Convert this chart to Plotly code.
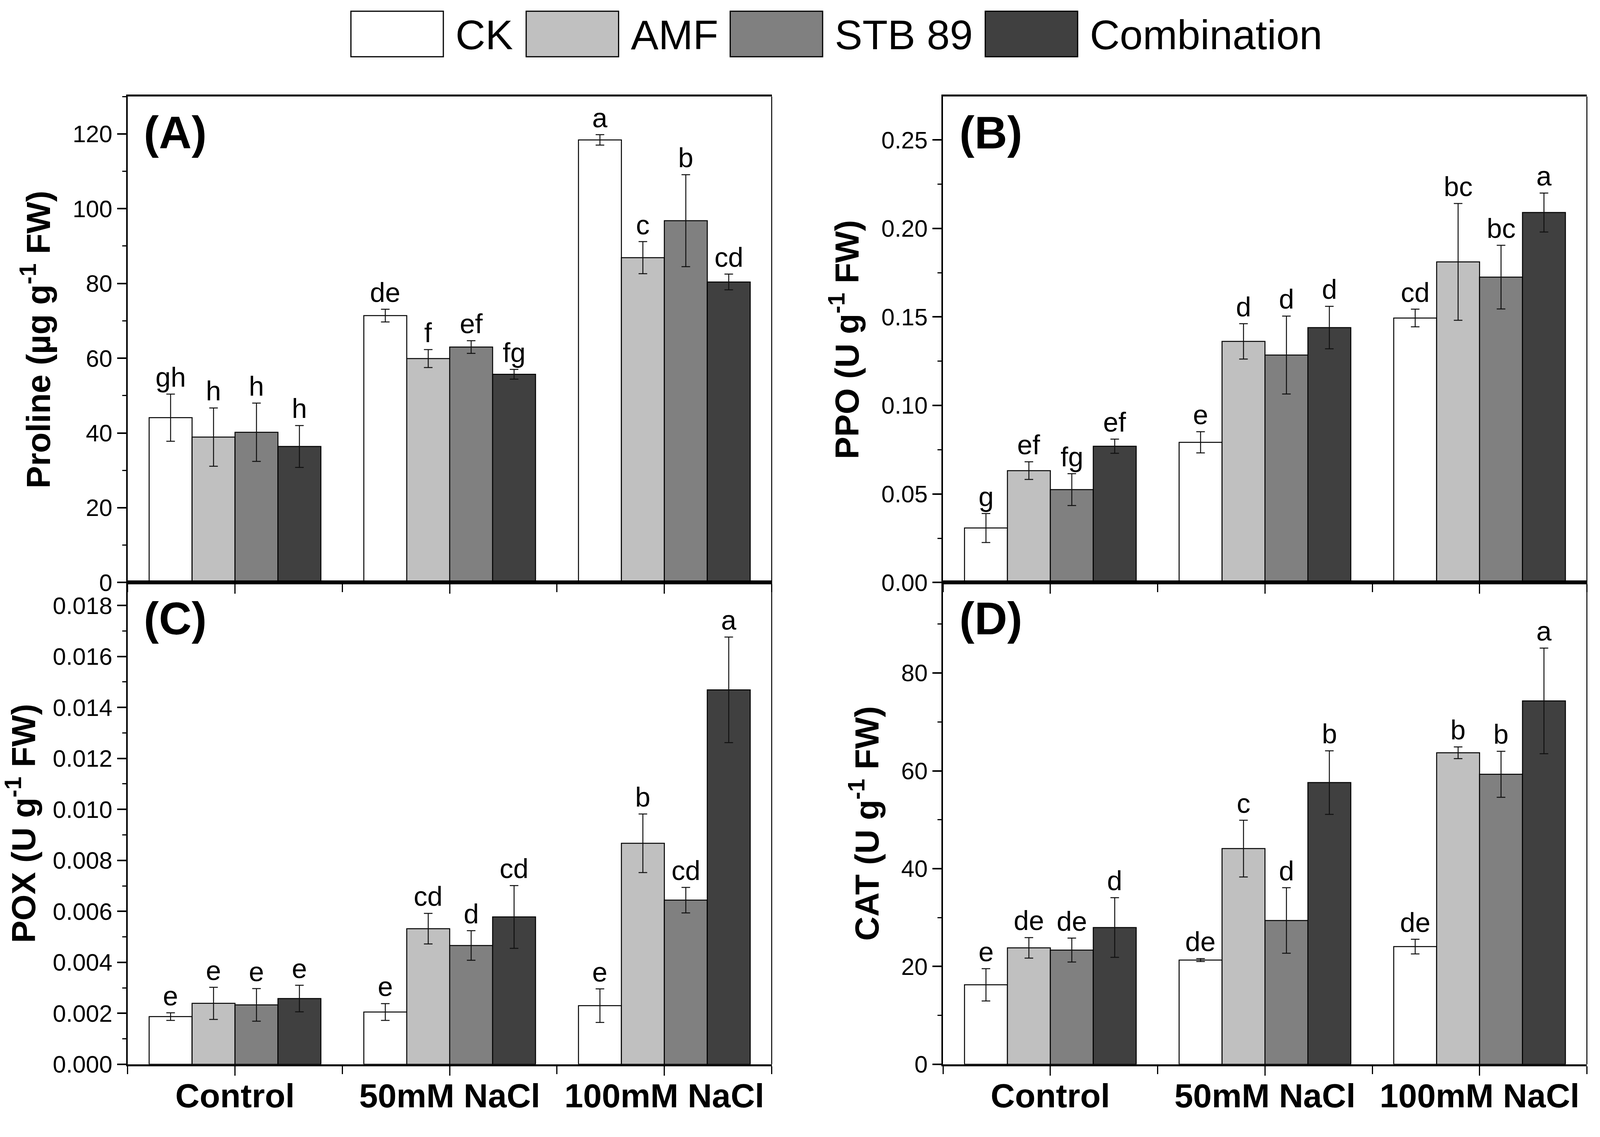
import plotly.graph_objects as go

# Data: rows = CK, AMF, STB 89, Combination; cols = Control, 50mM, 100mM
categories = ['Control', '50mM NaCl', '100mM NaCl']
treatments = ['CK', 'AMF', 'STB 89', 'Combination']
colors = ['#FFFFFF', '#C0C0C0', '#808080', '#404040']

proline_mean = [[44.1, 71.4, 118.4], [38.9, 59.9, 86.9], [40.2, 63.0, 96.8], [36.4, 55.7, 80.4]]
proline_sd = [[6.3, 1.7, 1.4], [7.8, 2.4, 4.3], [7.8, 1.7, 12.3], [5.6, 1.3, 2.1]]
proline_sig = [['gh', 'de', 'a'], ['h', 'f', 'c'], ['h', 'ef', 'b'], ['h', 'fg', 'cd']]

ppo_mean = [[0.0308, 0.0792, 0.1494], [0.0632, 0.1362, 0.1811], [0.0525, 0.1285, 0.1725], [0.077, 0.144, 0.209]]
ppo_sd = [[0.0082, 0.006, 0.005], [0.005, 0.010, 0.033], [0.009, 0.022, 0.018], [0.004, 0.012, 0.011]]
ppo_sig = [['g', 'e', 'cd'], ['ef', 'd', 'bc'], ['fg', 'd', 'bc'], ['ef', 'd', 'a']]

pox_mean = [[0.00187, 0.00205, 0.0023], [0.00239, 0.00532, 0.00867], [0.00233, 0.00466, 0.00644], [0.00258, 0.00578, 0.01469]]
pox_sd = [[0.00015, 0.00033, 0.00066], [0.00063, 0.0006, 0.00115], [0.00064, 0.00058, 0.0005], [0.00052, 0.00123, 0.00207]]
pox_sig = [['e', 'e', 'e'], ['e', 'cd', 'b'], ['e', 'd', 'cd'], ['e', 'cd', 'a']]

cat_mean = [[16.25, 21.3, 24.06], [23.8, 44.1, 63.7], [23.35, 29.4, 59.3], [27.96, 57.6, 74.3]]
cat_sd = [[3.3, 0.3, 1.5], [2.1, 5.8, 1.2], [2.45, 6.7, 4.7], [6.1, 6.5, 10.8]]
cat_sig = [['e', 'de', 'de'], ['de', 'c', 'b'], ['de', 'd', 'b'], ['d', 'b', 'a']]

FONT = 'Arial, Liberation Sans, sans-serif'
W, H = 4172, 2911   # design size, used for placing the hand-made legend

panels = [
    dict(mean=proline_mean, sd=proline_sd, sig=proline_sig, tag='(A)', ax='', rng=[0, 130], dtick=20, minor=10,
         fmt='', title='Proline (µg g<sup>-1</sup> FW)', xd=[0.0798, 0.4823], yd=[0.4816, 0.9141], bottom=False),
    dict(mean=ppo_mean, sd=ppo_sd, sig=ppo_sig, tag='(B)', ax='2', rng=[0, 0.2745], dtick=0.05, minor=0.025,
         fmt='.2f', title='PPO (U g<sup>-1</sup> FW)', xd=[0.5894, 0.9918], yd=[0.4816, 0.9141], bottom=False),
    dict(mean=pox_mean, sd=pox_sd, sig=pox_sig, tag='(C)', ax='3', rng=[0, 0.0189], dtick=0.002, minor=0.001,
         fmt='.3f', title='POX (U g<sup>-1</sup> FW)', xd=[0.0798, 0.4823], yd=[0.0529, 0.4816], bottom=True),
    dict(mean=cat_mean, sd=cat_sd, sig=cat_sig, tag='(D)', ax='4', rng=[0, 98.5], dtick=20, minor=10,
         fmt='', title='CAT (U g<sup>-1</sup> FW)', xd=[0.5894, 0.9918], yd=[0.0529, 0.4816], bottom=True),
]

fig = go.Figure()
xpos = list(range(len(categories)))
annotations = []
shapes = []
layout_axes = {}

for p in panels:
    xa, ya = 'x' + p['ax'], 'y' + p['ax']
    for t, name in enumerate(treatments):
        fig.add_trace(go.Bar(
            x=xpos, y=p['mean'][t], name=name, xaxis=xa, yaxis=ya, showlegend=False,
            marker=dict(color=colors[t], line=dict(color='black', width=2.5)),
            error_y=dict(type='data', array=p['sd'][t], visible=True, color='#111111', thickness=2.5, width=11),
        ))
        # significance letters above each error bar
        for i in xpos:
            annotations.append(dict(
                x=i + (t - 1.5) * 0.2, y=p['mean'][t][i] + p['sd'][t][i], xref=xa, yref=ya,
                text=p['sig'][t][i], showarrow=False, yanchor='bottom', yshift=2,
                font=dict(size=70, family=FONT, color='black')))

    # panel tag
    annotations.append(dict(x=0.024, y=0.925, xref=xa + ' domain', yref=ya + ' domain', text=p['tag'],
                            showarrow=False, xanchor='left', yanchor='middle',
                            font=dict(size=116, family=FONT, color='black', weight='bold')))
    # thin right frame line
    shapes.append(dict(type='line', xref=xa + ' domain', yref=ya + ' domain', x0=1, x1=1, y0=0, y1=1,
                       line=dict(color='black', width=2.5)))

    key = p['ax']
    layout_axes['xaxis' + key] = dict(
        domain=p['xd'], anchor=ya, range=[-0.5, 2.5], tickmode='array', tickvals=xpos, ticktext=categories,
        showticklabels=p['bottom'], ticks='outside', ticklen=24, tickwidth=3, tickcolor='black',
        ticklabelstandoff=-22,
        minor=dict(tickmode='array', tickvals=[-0.5, 0.5, 1.5, 2.5], ticks='outside', ticklen=20,
                   tickwidth=3, tickcolor='black'),
        showline=True, linewidth=5, linecolor='black', mirror=True, showgrid=False, zeroline=False,
        tickfont=dict(size=86, family=FONT, color='black', weight='bold'))
    layout_axes['yaxis' + key] = dict(
        domain=p['yd'], anchor=xa, range=p['rng'], tick0=0, dtick=p['dtick'], tickformat=p['fmt'],
        ticks='outside', ticklen=23, tickwidth=4, tickcolor='black',
        minor=dict(dtick=p['minor'], tick0=0, ticks='outside', ticklen=10, tickwidth=3, tickcolor='black'),
        showline=True, linewidth=4, linecolor='black', showgrid=False, zeroline=False,
        tickfont=dict(size=61, family=FONT, color='black'),
        title=dict(text=p['title'], standoff=30, font=dict(size=86, family=FONT, color='black', weight='bold')))

# custom legend on top
legend_left = [915, 1372, 1904, 2569]
box_w = 241
for t, name in enumerate(treatments):
    x0 = legend_left[t]
    shapes.append(dict(type='rect', xref='paper', yref='paper', x0=x0 / W, x1=(x0 + box_w) / W,
                       y0=1 - 147 / H, y1=1 - 29 / H, fillcolor=colors[t], line=dict(color='black', width=3)))
    annotations.append(dict(x=(x0 + box_w + 30) / W, y=1 - 90 / H, xref='paper', yref='paper', text=name,
                            showarrow=False, xanchor='left', yanchor='middle',
                            font=dict(size=106, family=FONT, color='black')))

fig.update_layout(
    autosize=True, margin=dict(l=0, r=0, t=0, b=0),
    barmode='group', bargap=0.2, bargroupgap=0,
    paper_bgcolor='white', plot_bgcolor='white',
    font=dict(family=FONT, color='black'),
    annotations=annotations, shapes=shapes,
    **layout_axes,
)

# fill the browser window exactly (no body margin, no scrollbars, no modebar)
fig.write_html('out.html', default_width='100vw', default_height='100vh',
               config={'displayModeBar': False},
               post_script="document.body.style.margin='0';document.body.style.overflow='hidden';"
                           "Plotly.Plots.resize(document.getElementById('{plot_id}'));")
